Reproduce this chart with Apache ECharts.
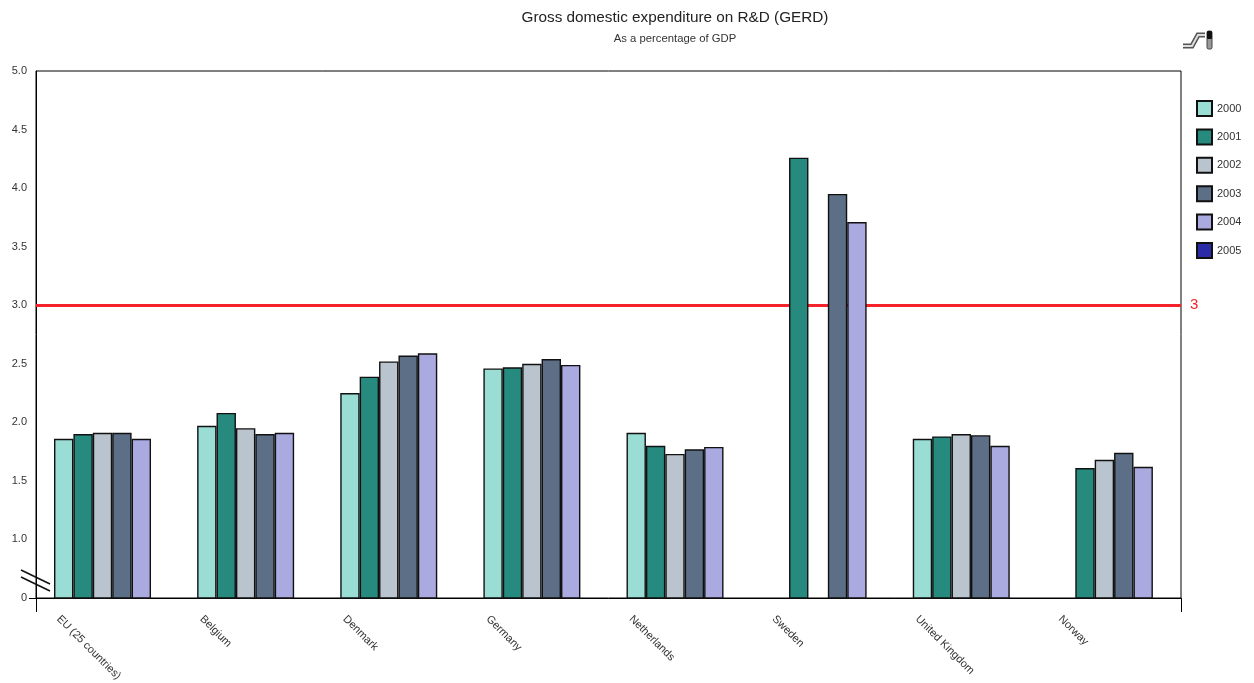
<!DOCTYPE html>
<html>
<head>
<meta charset="utf-8">
<title>GERD</title>
<script src="https://cdn.jsdelivr.net/npm/echarts@6/dist/echarts.min.js"></script>
<style>
  html, body { margin: 0; padding: 0; background: #fff; }
  #chart { width: 1254px; height: 683px; }
</style>
</head>
<body>
<div id="chart"></div>
<script>
var categories = ["EU (25 countries)", "Belgium", "Denmark", "Germany", "Netherlands", "Sweden", "United Kingdom", "Norway"];
var years = ["2000", "2001", "2002", "2003", "2004", "2005"];
var colors = ["#99DDD5", "#268A7E", "#BAC4CE", "#5C6F87", "#AAA9E0", "#2B2BA8"];

var v2000 = [1.86, 1.97, 2.25, 2.46, 1.91, null, 1.86, null];
var v2001 = [1.90, 2.08, 2.39, 2.47, 1.80, 4.26, 1.88, 1.61];
var v2002 = [1.91, 1.95, 2.52, 2.50, 1.73, null, 1.90, 1.68];
var v2003 = [1.91, 1.90, 2.57, 2.54, 1.77, 3.95, 1.89, 1.74];
var v2004 = [1.86, 1.91, 2.59, 2.49, 1.79, 3.71, 1.80, 1.62];
var v2005 = [null, null, null, null, null, null, null, null];
var yearValues = [v2000, v2001, v2002, v2003, v2004, v2005];

var target = 3;

var chart = echarts.init(document.getElementById("chart"));

// the source groups sit right of the band centre, an empty first series pushes them over
var series = [{
  name: "spacer",
  type: "bar",
  barWidth: 9.3,
  barGap: 0,
  data: categories.map(function () { return null; }),
  silent: true,
  markLine: {
    silent: true,
    symbol: "none",
    z: 1,
    lineStyle: { color: "#F5222A", width: 3, type: "solid" },
    label: { position: "end", formatter: "3", color: "#F5222A", fontSize: 15, distance: 9, fontFamily: "Liberation Sans" },
    data: [{ yAxis: target }]
  }
}];
years.forEach(function (y, i) {
  series.push({
    name: y,
    type: "bar",
    barWidth: 19.4,
    barGap: 0,
    data: yearValues[i],
    itemStyle: { color: colors[i], borderColor: "#111", borderWidth: 1.4 }
  });
});

var option = {
  backgroundColor: "#fff",
  animation: false,
  textStyle: { fontFamily: "Liberation Sans" },
  title: [
    { text: "Gross domestic expenditure on R&D (GERD)", left: 670, top: 5, textAlign: "center",
      textStyle: { fontSize: 15.3, fontWeight: "normal", color: "#222" } },
    { text: "As a percentage of GDP", left: 670, top: 28, textAlign: "center",
      textStyle: { fontSize: 11.3, fontWeight: "normal", color: "#333" } }
  ],
  legend: {
    orient: "vertical",
    left: 1196,
    top: 100,
    padding: 0,
    icon: "rect",
    itemWidth: 15,
    itemHeight: 15,
    itemGap: 11.4,
    selectedMode: false,
    data: years,
    textStyle: { fontSize: 11, lineHeight: 11, color: "#333", padding: [6, 0, 0, 0] }
  },
  grid: [
    { left: 36, top: 71, width: 1145, height: 527, show: true, borderColor: "#000", borderWidth: 1 },
    // only carries the rotated labels, which start at the left of each group
    { left: 58.5, top: 598, width: 1144.8, height: 1 }
  ],
  xAxis: [
    {
      type: "category",
      gridIndex: 0,
      data: categories,
      axisLine: { lineStyle: { color: "#000", width: 1 } },
      axisTick: { show: false },
      axisLabel: { show: false }
    },
    {
      type: "category",
      gridIndex: 1,
      boundaryGap: false,
      data: categories.concat([""]),
      axisLine: { show: false },
      axisTick: { show: false },
      axisLabel: { interval: 0, rotate: -45, margin: 19, fontSize: 11, color: "#333", hideOverlap: false }
    }
  ],
  yAxis: [
    {
      type: "value",
      gridIndex: 0,
      // axis is broken in the source: 0 is drawn where 0.5 would be
      min: 0.5,
      max: 5,
      interval: 0.5,
      axisLine: { show: true, lineStyle: { color: "#000", width: 1 } },
      axisTick: { show: false },
      splitLine: { show: false },
      axisLabel: {
        margin: 9,
        fontSize: 11,
        color: "#333",
        formatter: function (v) { return v === 0.5 ? "0" : v.toFixed(1); }
      }
    },
    { type: "value", gridIndex: 1, show: false }
  ],
  series: series,
  graphic: [
    { type: "line", shape: { x1: 21, y1: 570, x2: 50, y2: 584 }, style: { stroke: "#111", lineWidth: 1.6 }, z: 10 },
    { type: "line", shape: { x1: 21, y1: 577, x2: 50, y2: 591 }, style: { stroke: "#111", lineWidth: 1.6 }, z: 10 },
    { type: "line", shape: { x1: 29, y1: 598.5, x2: 36, y2: 598.5 }, style: { stroke: "#000", lineWidth: 1 }, z: 10 },
    { type: "line", shape: { x1: 36.5, y1: 598, x2: 36.5, y2: 612 }, style: { stroke: "#000", lineWidth: 1 }, z: 10 },
    { type: "line", shape: { x1: 1181.5, y1: 598, x2: 1181.5, y2: 612 }, style: { stroke: "#000", lineWidth: 1 }, z: 10 },
    { type: "polyline", shape: { points: [[1183, 46], [1192, 46], [1198, 35], [1205, 35]] },
      style: { stroke: "#555", lineWidth: 5, fill: null }, z: 10 },
    { type: "polyline", shape: { points: [[1183, 46], [1192, 46], [1198, 35], [1205, 35]] },
      style: { stroke: "#ddd", lineWidth: 2, fill: null }, z: 11 },
    { type: "rect", shape: { x: 1207, y: 31, width: 5, height: 18, r: 1.5 }, style: { fill: "#999", stroke: "#444", lineWidth: 1 }, z: 10 },
    { type: "rect", shape: { x: 1207, y: 31, width: 5, height: 8, r: 1 }, style: { fill: "#111" }, z: 11 }
  ]
};

chart.setOption(option);
</script>
</body>
</html>
